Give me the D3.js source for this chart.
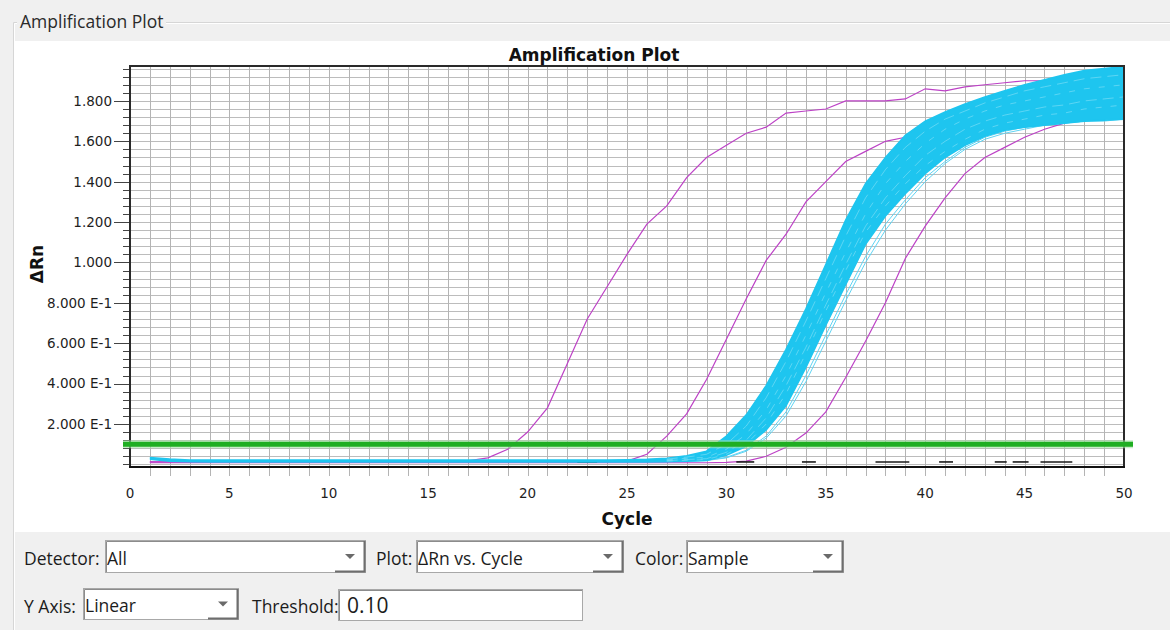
<!DOCTYPE html>
<html>
<head>
<meta charset="utf-8">
<script src="https://cdnjs.cloudflare.com/ajax/libs/d3/7.8.5/d3.min.js"></script>
<style>
  body { margin: 0; background: #f0f0f0; }
  svg { display: block; }
</style>
</head>
<body>
<svg id="chart" width="1170" height="630"></svg>
<script>
// cycle numbers of the run
const cycles = [1, 2, 3, 4, 5, 6, 7, 8, 9, 10, 11, 12, 13, 14, 15, 16, 17, 18, 19, 20,
  21, 22, 23, 24, 25, 26, 27, 28, 29, 30, 31, 32, 33, 34, 35, 36, 37, 38, 39, 40,
  41, 42, 43, 44, 45, 46, 47, 48, 49, 50];

// magenta samples (dRn per cycle)
const magentaEarly = [0.012, 0.012, 0.012, 0.012, 0.012, 0.012, 0.012, 0.012, 0.012, 0.012,
  0.012, 0.012, 0.012, 0.012, 0.012, 0.013, 0.018, 0.032, 0.075, 0.16,
  0.28, 0.50, 0.72, 0.88, 1.04, 1.19, 1.28, 1.42, 1.52, 1.58,
  1.64, 1.67, 1.74, 1.75, 1.76, 1.80, 1.80, 1.80, 1.81, 1.86,
  1.85, 1.87, 1.88, 1.89, 1.90, 1.90, 1.91, 1.91, 1.92, 1.93];
const magentaMid = [0.012, 0.012, 0.012, 0.012, 0.012, 0.012, 0.012, 0.012, 0.012, 0.012,
  0.012, 0.012, 0.012, 0.012, 0.012, 0.012, 0.012, 0.012, 0.012, 0.012,
  0.012, 0.012, 0.012, 0.012, 0.016, 0.05, 0.14, 0.25, 0.42, 0.62,
  0.82, 1.01, 1.14, 1.30, 1.40, 1.50, 1.55, 1.60, 1.62, 1.66,
  1.70, 1.73, 1.76, 1.78, 1.80, 1.82, 1.83, 1.85, 1.86, 1.87];
const magentaLate = [0.008, 0.008, 0.008, 0.008, 0.008, 0.008, 0.008, 0.008, 0.008, 0.008,
  0.008, 0.008, 0.008, 0.008, 0.008, 0.008, 0.008, 0.008, 0.008, 0.008,
  0.008, 0.008, 0.008, 0.008, 0.008, 0.008, 0.008, 0.008, 0.008, 0.010,
  0.016, 0.04, 0.085, 0.155, 0.26, 0.43, 0.61, 0.80, 1.02, 1.18,
  1.32, 1.44, 1.52, 1.57, 1.62, 1.66, 1.69, 1.71, 1.73, 1.75];

// cyan sample group: upper / lower envelope of the bundle
const cyanUpper = [0.034, 0.026, 0.022, 0.022, 0.022, 0.022, 0.022, 0.022, 0.022, 0.022,
  0.022, 0.022, 0.022, 0.022, 0.022, 0.022, 0.022, 0.022, 0.022, 0.022,
  0.022, 0.022, 0.022, 0.022, 0.023, 0.025, 0.030, 0.042, 0.065, 0.14,
  0.245, 0.39, 0.57, 0.77, 0.99, 1.21, 1.39, 1.52, 1.63, 1.70,
  1.745, 1.785, 1.82, 1.85, 1.88, 1.905, 1.93, 1.95, 1.96, 1.97];
const cyanLower = [0.026, 0.016, 0.013, 0.012, 0.012, 0.012, 0.012, 0.012, 0.012, 0.012,
  0.012, 0.012, 0.012, 0.012, 0.012, 0.012, 0.012, 0.012, 0.012, 0.012,
  0.012, 0.012, 0.012, 0.012, 0.012, 0.012, 0.013, 0.016, 0.02, 0.045,
  0.09, 0.17, 0.29, 0.48, 0.69, 0.89, 1.09, 1.23, 1.34, 1.44,
  1.52, 1.58, 1.625, 1.655, 1.67, 1.68, 1.69, 1.70, 1.705, 1.71];

// some single cyan wells inside the bundle (from cycle 27)
const innerCycles = [27, 28, 29, 30, 31, 32, 33, 34, 35, 36, 37, 38, 39, 40,
  41, 42, 43, 44, 45, 46, 47, 48, 49, 50];
const cyanInner = [
  [0.026, 0.036, 0.05, 0.10, 0.19, 0.33, 0.51, 0.71, 0.92, 1.13, 1.32, 1.46, 1.57, 1.65,
    1.71, 1.75, 1.79, 1.82, 1.85, 1.87, 1.89, 1.91, 1.92, 1.93],
  [0.022, 0.03, 0.035, 0.075, 0.15, 0.27, 0.44, 0.64, 0.85, 1.05, 1.24, 1.39, 1.50, 1.59,
    1.66, 1.71, 1.75, 1.78, 1.80, 1.82, 1.84, 1.86, 1.87, 1.88],
  [0.018, 0.024, 0.028, 0.06, 0.12, 0.23, 0.39, 0.58, 0.79, 0.99, 1.18, 1.32, 1.43, 1.53,
    1.60, 1.66, 1.70, 1.73, 1.75, 1.77, 1.78, 1.80, 1.81, 1.82],
  [0.016, 0.02, 0.024, 0.05, 0.10, 0.20, 0.35, 0.55, 0.76, 0.96, 1.15, 1.28, 1.39, 1.48,
    1.55, 1.61, 1.66, 1.69, 1.71, 1.73, 1.74, 1.76, 1.77, 1.78]
];
// a few late cyan wells just right of the bundle
const cyanOutliers = [
  [0.014, 0.017, 0.02, 0.035, 0.07, 0.14, 0.26, 0.44, 0.64, 0.84, 1.03, 1.19, 1.31, 1.42,
    1.50, 1.57, 1.62, 1.65, 1.67, 1.68, 1.69, 1.70, 1.70, 1.71],
  [0.014, 0.016, 0.019, 0.032, 0.065, 0.13, 0.24, 0.41, 0.61, 0.81, 1.00, 1.16, 1.29, 1.40,
    1.49, 1.56, 1.61, 1.64, 1.66, 1.68, 1.69, 1.70, 1.71, 1.72]
];

// no-template controls: short visible pieces near zero
const ntcStart = [22.5, 30.5, 33.8, 37.5, 40.7, 43.5, 44.4, 45.8];
const ntcEnd = [23.5, 31.4, 34.5, 39.2, 41.4, 44.1, 45.2, 47.4];
const ntcValue = 0.012;

const threshold = 0.10;

const yTickValues = [0.2, 0.4, 0.6, 0.8, 1.0, 1.2, 1.4, 1.6, 1.8];
const yTickLabels = ['2.000 E-1', '4.000 E-1', '6.000 E-1', '8.000 E-1', '1.000',
  '1.200', '1.400', '1.600', '1.800'];
const xTickValues = [0, 5, 10, 15, 20, 25, 30, 35, 40, 45, 50];

const MAGENTA = '#bd42c6';
const CYAN = '#1ec5ef';
const FONT = 'DejaVu Sans, Verdana, sans-serif';
const UI_FONT = 'Open Sans, Noto Sans, sans-serif';

main();

function main () {
  const svg = d3.select('#chart');
  const x = d3.scaleLinear().domain([0, 50]).range([130, 1124]);
  const y = d3.scaleLinear().domain([-0.013, 1.973]).range([467, 66]);

  drawFrame(svg);
  drawGrid(svg, x, y);
  drawCurves(svg, x, y);
  drawAxes(svg, x, y);
  drawControls(svg);
}

function drawFrame (svg) {
  svg.append('rect').attr('width', 1170).attr('height', 630).attr('fill', '#f0f0f0');
  // group box
  svg.append('path')
    .attr('d', 'M13.5,630 V22.5 H17 M166,22.5 H1170')
    .attr('fill', 'none').attr('stroke', '#d6d6d6');
  svg.append('path')
    .attr('d', 'M14.5,630 V23.5 H17 M166,23.5 H1170')
    .attr('fill', 'none').attr('stroke', '#ffffff');
  svg.append('text').text('Amplification Plot')
    .attr('x', 20).attr('y', 28)
    .attr('font-family', UI_FONT).attr('font-size', '17.5px')
    .attr('fill', '#2a2a2a');
  svg.append('rect')
    .attr('x', 15).attr('y', 41).attr('width', 1155).attr('height', 491)
    .attr('fill', '#ffffff');
}

function drawGrid (svg, x, y) {
  const g = svg.append('g');
  const minorY = d3.range(0, 50).map(i => i * 0.04);
  const minorX = d3.range(1, 50);

  g.selectAll('line.hgrid').data(minorY).enter().append('line')
    .attr('class', 'hgrid')
    .attr('x1', x(0)).attr('x2', x(50))
    .attr('y1', d => Math.round(y(d)) + 0.5).attr('y2', d => Math.round(y(d)) + 0.5)
    .attr('stroke', '#bcbcbc');

  g.selectAll('line.vgrid').data(minorX).enter().append('line')
    .attr('class', 'vgrid')
    .attr('x1', d => Math.round(x(d)) + 0.5).attr('x2', d => Math.round(x(d)) + 0.5)
    .attr('y1', y.range()[1]).attr('y2', y.range()[0] + 9)
    .attr('stroke', '#b4b4b4');
}

function drawCurves (svg, x, y) {
  svg.append('clipPath').attr('id', 'plot-clip')
    .append('rect')
    .attr('x', x(0)).attr('y', y.range()[1])
    .attr('width', x(50) - x(0)).attr('height', y.range()[0] - y.range()[1]);

  const g = svg.append('g').attr('clip-path', 'url(#plot-clip)');

  const line = d3.line()
    .x((d, i) => x(cycles[i]))
    .y(d => y(d));

  for (let s of [magentaEarly, magentaMid, magentaLate]) {
    g.append('path')
      .attr('d', line(s))
      .attr('fill', 'none')
      .attr('stroke', MAGENTA)
      .attr('stroke-width', 1.2);
  }

  // NTC wells, black
  for (let i = 0; i < ntcStart.length; i++) {
    g.append('line')
      .attr('x1', x(ntcStart[i])).attr('x2', x(ntcEnd[i]))
      .attr('y1', y(ntcValue)).attr('y2', y(ntcValue))
      .attr('stroke', '#1a1a1a')
      .attr('stroke-width', 1.6);
  }

  const innerLine = d3.line()
    .x((d, i) => x(innerCycles[i]))
    .y(d => y(d));

  // late wells first, so the bundle sits on top
  for (let s of cyanOutliers) {
    g.append('path')
      .attr('d', innerLine(s))
      .attr('fill', 'none')
      .attr('stroke', '#5fd4f3')
      .attr('stroke-width', 1);
  }

  // cyan bundle
  const area = d3.area()
    .x((d, i) => x(cycles[i]))
    .y0((d, i) => y(cyanLower[i]))
    .y1(d => y(d));
  g.append('path')
    .attr('d', area(cyanUpper))
    .attr('fill', CYAN);

  for (let s of [cyanUpper, cyanLower]) {
    g.append('path')
      .attr('d', line(s))
      .attr('fill', 'none')
      .attr('stroke', CYAN)
      .attr('stroke-width', 1.6);
  }

  cyanInner.forEach((s, k) => {
    g.append('path')
      .attr('d', innerLine(s))
      .attr('fill', 'none')
      .attr('stroke', '#a8e8f8')
      .attr('stroke-width', 0.7)
      .attr('opacity', 0.65)
      .attr('stroke-dasharray', k % 2 ? '6,9' : '11,6');
  });
}

function drawAxes (svg, x, y) {
  const g = svg.append('g');
  const minorY = d3.range(0, 50).map(i => i * 0.04);

  // left ticks
  g.selectAll('line.ytick').data(minorY).enter().append('line')
    .attr('x1', x(0) - 7).attr('x2', x(0))
    .attr('y1', d => Math.round(y(d)) + 0.5).attr('y2', d => Math.round(y(d)) + 0.5)
    .attr('stroke', '#444');
  g.selectAll('line.ymajor').data(yTickValues).enter().append('line')
    .attr('x1', x(0) - 16).attr('x2', x(0))
    .attr('y1', d => Math.round(y(d)) + 0.5).attr('y2', d => Math.round(y(d)) + 0.5)
    .attr('stroke', '#444');

  g.selectAll('text.ylab').data(yTickValues).enter().append('text')
    .attr('x', 112).attr('y', d => y(d))
    .attr('dy', '0.36em')
    .attr('text-anchor', 'end')
    .attr('font-family', FONT).attr('font-size', '13.5px')
    .attr('fill', '#1e1e1e')
    .text((d, i) => yTickLabels[i]);

  g.selectAll('text.xlab').data(xTickValues).enter().append('text')
    .attr('x', d => x(d)).attr('y', 498)
    .attr('text-anchor', 'middle')
    .attr('font-family', FONT).attr('font-size', '13.5px')
    .attr('fill', '#1e1e1e')
    .text(d => d);

  // frame
  const top = y.range()[1];
  const bottom = y.range()[0];
  g.append('path')
    .attr('d', `M${x(0)},${bottom} V${top} H${x(50)} V${bottom}`)
    .attr('fill', 'none').attr('stroke', '#2a2a2a').attr('stroke-width', 2);
  g.append('line')
    .attr('x1', x(0) - 1).attr('x2', x(50) + 1)
    .attr('y1', bottom).attr('y2', bottom)
    .attr('stroke', '#111').attr('stroke-width', 2);

  // threshold
  g.append('line')
    .attr('x1', x(0) - 7).attr('x2', x(50) + 9)
    .attr('y1', y(threshold)).attr('y2', y(threshold))
    .attr('stroke', '#a6e3a6').attr('stroke-width', 8).attr('opacity', 0.6);
  g.append('line')
    .attr('x1', x(0) - 7).attr('x2', x(50) + 9)
    .attr('y1', y(threshold)).attr('y2', y(threshold))
    .attr('stroke', '#1fae22').attr('stroke-width', 5);

  // titles
  g.append('text').text('Amplification Plot')
    .attr('x', 594).attr('y', 61)
    .attr('text-anchor', 'middle')
    .attr('font-family', FONT).attr('font-weight', 'bold').attr('font-size', '17px')
    .attr('fill', '#111');
  g.append('text').text('Cycle')
    .attr('x', (x(0) + x(50)) / 2).attr('y', 525)
    .attr('text-anchor', 'middle')
    .attr('font-family', FONT).attr('font-weight', 'bold').attr('font-size', '17px')
    .attr('fill', '#111');
  g.append('text').text('ΔRn')
    .attr('transform', 'translate(43,264) rotate(-90)')
    .attr('text-anchor', 'middle')
    .attr('font-family', FONT).attr('font-weight', 'bold').attr('font-size', '17px')
    .attr('fill', '#111');
}

function drawControls (svg) {
  const g = svg.append('g');
  label(g, 'Detector:', 24, 565);
  combo(g, 105, 540, 260, 32, 'All', true);
  label(g, 'Plot:', 376, 565);
  combo(g, 416, 540, 207, 32, 'ΔRn vs. Cycle', true);
  label(g, 'Color:', 635, 565);
  combo(g, 686, 540, 157, 32, 'Sample', true);
  label(g, 'Y Axis:', 24, 613);
  combo(g, 83, 588, 155, 31, 'Linear', true);
  label(g, 'Threshold:', 252, 613);
  combo(g, 338, 589, 244, 31, '0.10', false);
}

function label (g, txt, x0, y0) {
  g.append('text').text(txt)
    .attr('x', x0).attr('y', y0)
    .attr('font-family', UI_FONT).attr('font-size', '17.5px')
    .attr('fill', '#1c1c1c');
}

function combo (g, x0, y0, w, h, txt, hasArrow) {
  g.append('rect')
    .attr('x', x0 + 0.5).attr('y', y0 + 0.5).attr('width', w).attr('height', h)
    .attr('fill', '#fff').attr('stroke', '#a8a8a8');
  g.append('path')
    .attr('d', `M${x0 + 1.5},${y0 + h} V${y0 + 1.5} H${x0 + w}`)
    .attr('fill', 'none').attr('stroke', '#8c8c8c');
  if (hasArrow) {
    const bx = x0 + w - 30;
    g.append('path')
      .attr('d', `M${bx},${y0 + h - 0.5} H${x0 + w - 0.5} V${y0 + 1}`)
      .attr('fill', 'none').attr('stroke', '#6e6e6e').attr('stroke-width', 2);
    const cx = x0 + w - 15;
    const cy = y0 + h / 2;
    g.append('path')
      .attr('d', `M${cx - 5},${cy - 2} H${cx + 5} L${cx},${cy + 3} Z`)
      .attr('fill', '#6a6a6a');
  }
  const isNum = !hasArrow;
  g.append('text').text(txt)
    .attr('x', x0 + (isNum ? 9 : 2)).attr('y', y0 + h - 7)
    .attr('font-family', UI_FONT)
    .attr('font-size', isNum ? '21px' : '17.5px')
    .attr('fill', '#1c1c1c');
}
</script>
</body>
</html>
